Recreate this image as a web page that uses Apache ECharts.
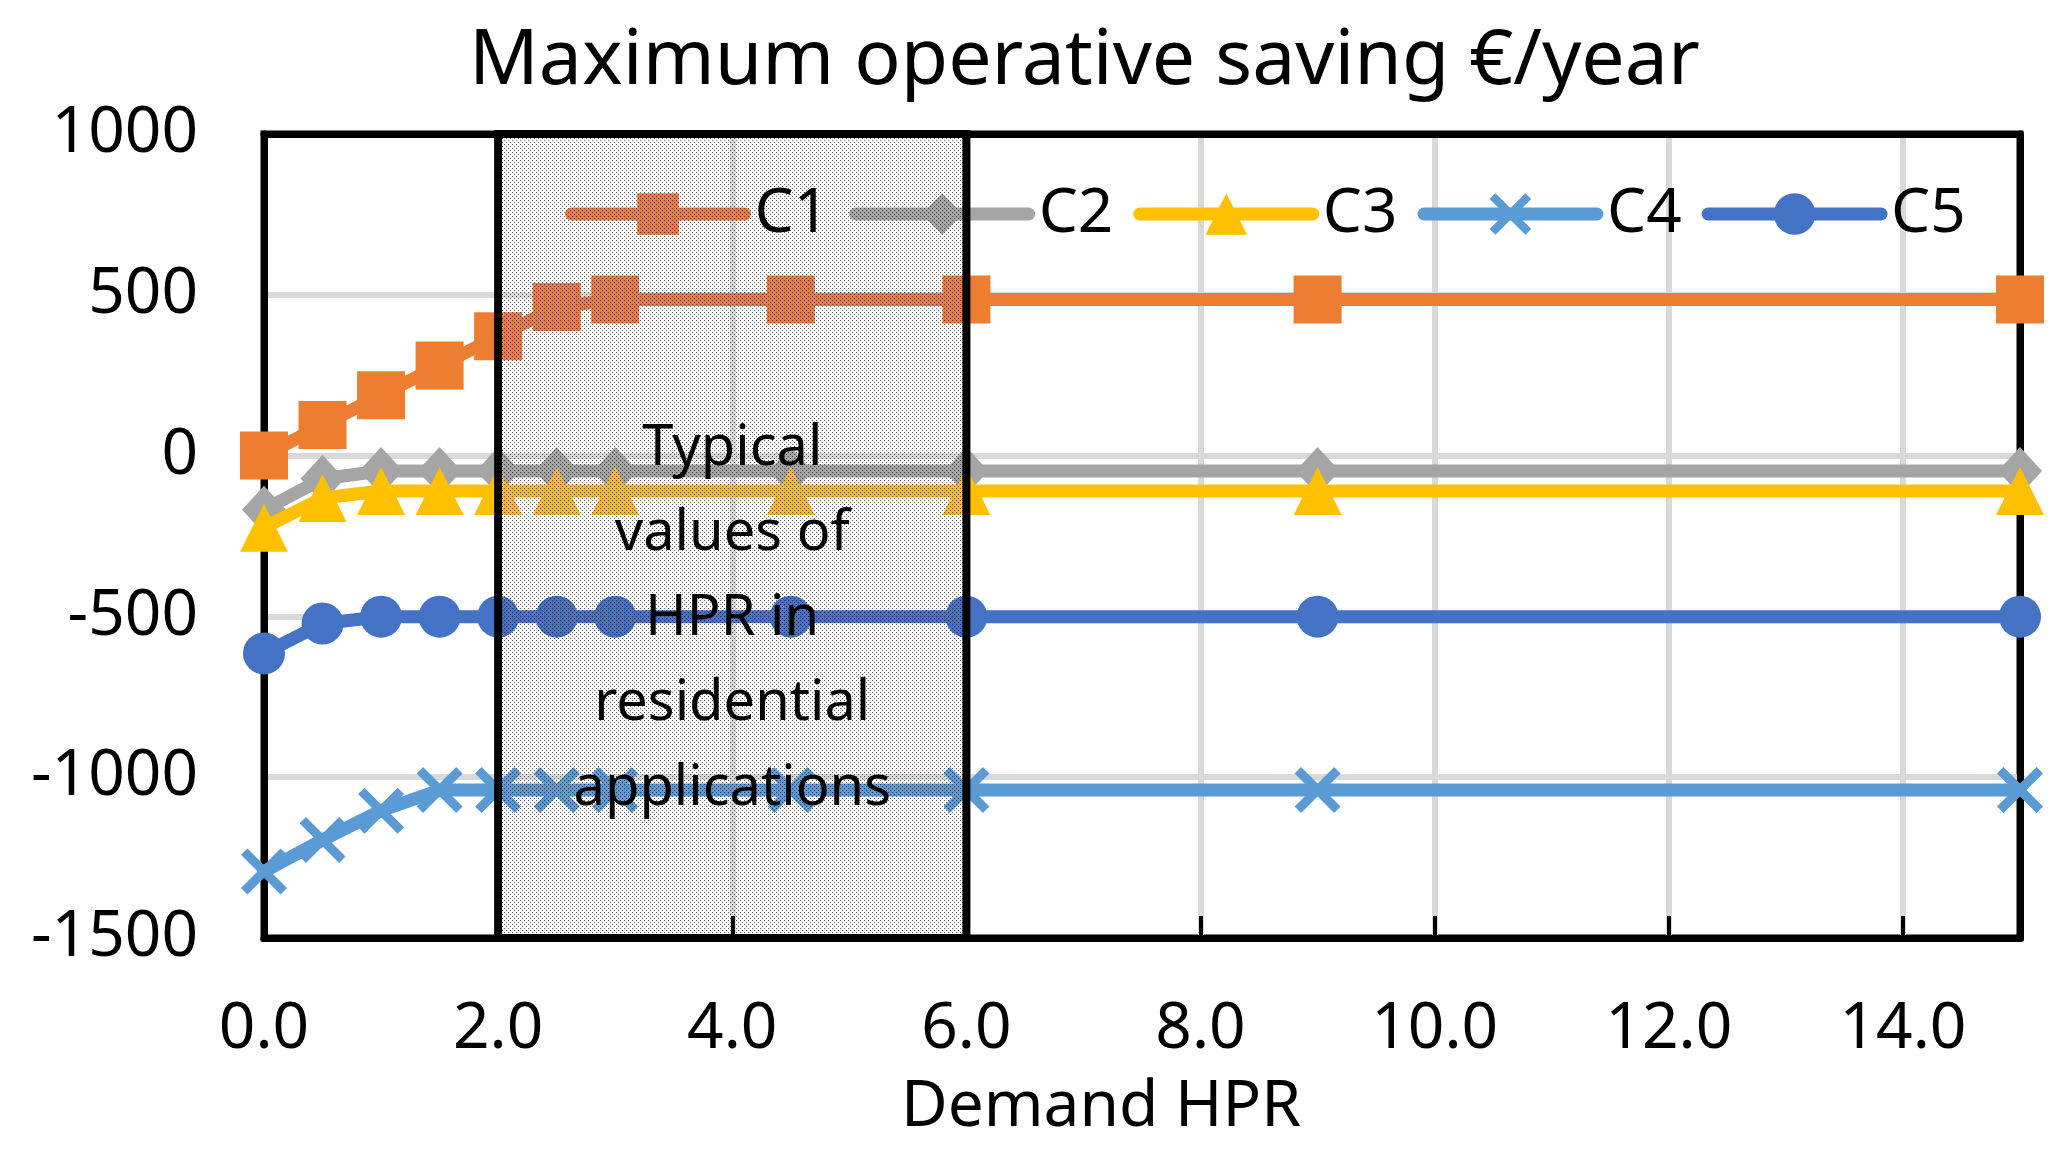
<!DOCTYPE html>
<html>
<head>
<meta charset="utf-8">
<script src="https://cdn.jsdelivr.net/npm/echarts@6/dist/echarts.min.js"></script>
<style>
html,body{margin:0;padding:0;background:#fff;}
#chart{width:2070px;height:1151px;}
</style>
</head>
<body>
<div id="chart"></div>
<script>
// ---- data ----
const demandHPR = [0, 0.5, 1, 1.5, 2, 2.5, 3, 4.5, 6, 9, 15];
const seriesNames = ['C1', 'C2', 'C3', 'C4', 'C5'];
const c1 = [0, 95, 188, 280, 371, 462, 485, 485, 485, 485, 485];
const c2 = [-168, -72, -48, -48, -48, -48, -48, -48, -48, -48, -48];
const c3 = [-224, -132, -110, -110, -110, -110, -110, -110, -110, -110, -110];
const c4 = [-1293, -1195, -1104, -1040, -1040, -1040, -1040, -1040, -1040, -1040, -1040];
const c5 = [-615, -522, -501, -501, -501, -501, -501, -501, -501, -501, -501];
const typicalRange = [2, 6];
const typicalText = ['Typical', 'values of', 'HPR in', 'residential', 'applications'];
const titleText = 'Maximum operative saving €/year';
const xAxisName = 'Demand HPR';

const FONT = 'Noto Sans';
const colors = ['#ED7D31', '#A5A5A5', '#FFC000', '#5B9BD5', '#4472C4'];
const xPath = 'path://M0,1.4L1.4,0L10,8.6L8.6,10Z M8.6,0L10,1.4L1.4,10L0,8.6Z';
const symbols = ['rect', 'diamond', 'triangle', xPath, 'circle'];
const symbolSizes = [48, [44, 48], 48, 46, 42];
const values = [c1, c2, c3, c4, c5];

// dotted pattern for the shaded box
const pat = document.createElement('canvas');
pat.width = 4; pat.height = 4;
const pctx = pat.getContext('2d');
pctx.fillStyle = 'rgba(0,0,0,0.65)';
pctx.fillRect(0, 0, 1, 1);
pctx.fillRect(2, 2, 1, 1);

const series = seriesNames.map((name, i) => ({
  name: name,
  type: 'line',
  data: demandHPR.map((x, j) => [x, values[i][j]]),
  symbol: symbols[i],
  symbolSize: symbolSizes[i],
  showAllSymbol: true,
  clip: false,
  lineStyle: { color: colors[i], width: 13, cap: 'round', join: 'round' },
  itemStyle: { color: colors[i] },
  z: 3 + i
}));

series.push({
  name: 'typical',
  type: 'line',
  data: [],
  z: 20,
  markArea: {
    silent: true,
    z: 30,
    itemStyle: {
      color: { image: pat, repeat: 'repeat' },
      borderColor: '#000',
      borderWidth: 8
    },
    label: {
      show: true,
      position: 'inside',
      offset: [0, 83],
      formatter: typicalText.join('\n'),
      fontFamily: FONT,
      fontSize: 56,
      lineHeight: 85,
      color: '#000',
      align: 'center'
    },
    data: [[{ xAxis: typicalRange[0], yAxis: 1010 }, { xAxis: typicalRange[1], yAxis: -1500 }]]
  }
});

const frameAxis = {
  axisLine: { show: true, onZero: false, lineStyle: { color: '#000', width: 7 } },
  axisTick: { show: false },
  axisLabel: { show: false },
  splitLine: { show: false }
};

const chart = echarts.init(document.getElementById('chart'), null, { renderer: 'canvas' });
chart.setOption({
  animation: false,
  backgroundColor: '#fff',
  title: {
    text: titleText,
    left: 469,
    top: 24,
    padding: 0,
    textStyle: { fontFamily: FONT, fontSize: 77, fontWeight: 'normal', color: '#000' }
  },
  legend: {
    data: seriesNames,
    left: 560,
    top: 178,
    itemWidth: 173,
    itemHeight: 52,
    itemGap: 20,
    selectedMode: false,
    lineStyle: { width: 13, cap: 'round' },
    textStyle: { fontFamily: FONT, fontSize: 62, color: '#000', padding: [0, 0, 0, 5] }
  },
  grid: {
    left: 264, right: 50, top: 134, bottom: 213,
    show: true, borderColor: '#000', borderWidth: 7, containLabel: false
  },
  xAxis: [{
    type: 'value',
    min: 0, max: 15, interval: 2,
    z: 2,
    name: xAxisName,
    nameLocation: 'middle',
    nameGap: 138,
    nameTextStyle: { fontFamily: FONT, fontSize: 64, color: '#000', padding: [0, 82, 0, 0] },
    axisLine: { show: true, onZero: false, lineStyle: { color: '#000', width: 7 } },
    axisTick: { show: true, inside: true, length: 22, lineStyle: { color: '#000', width: 4 } },
    axisLabel: {
      margin: 60, fontFamily: FONT, fontSize: 64, color: '#000',
      formatter: v => v.toFixed(1)
    },
    splitLine: { show: true, lineStyle: { color: '#D9D9D9', width: 6 } }
  }, Object.assign({ type: 'value', min: 0, max: 15, interval: 2, position: 'top', z: 2 }, frameAxis)],
  yAxis: [{
    type: 'value',
    min: -1500, max: 1000, interval: 500,
    z: 2,
    axisLine: { show: true, onZero: false, lineStyle: { color: '#000', width: 7 } },
    axisTick: { show: false },
    axisLabel: {
      margin: 66, fontFamily: FONT, fontSize: 64, color: '#000',
      formatter: v => String(v)
    },
    splitLine: { show: true, lineStyle: { color: '#D9D9D9', width: 6 } }
  }, Object.assign({ type: 'value', min: -1500, max: 1000, interval: 500, position: 'right', z: 2 }, frameAxis)],
  series: series
});
</script>
</body>
</html>
